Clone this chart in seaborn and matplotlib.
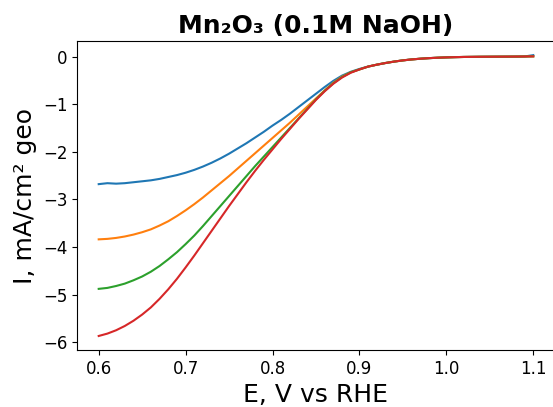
import matplotlib
matplotlib.use("Agg")
import matplotlib.pyplot as plt
import seaborn as sns
import pandas as pd

potential = [0.60, 0.61, 0.62, 0.63, 0.64, 0.65, 0.66, 0.67, 0.68, 0.69,
             0.70, 0.71, 0.72, 0.73, 0.74, 0.75, 0.76, 0.77, 0.78, 0.79,
             0.80, 0.81, 0.82, 0.83, 0.84, 0.85, 0.86, 0.87, 0.88, 0.89,
             0.90, 0.91, 0.92, 0.93, 0.94, 0.95, 0.96, 0.97, 0.98, 0.99,
             1.00, 1.01, 1.02, 1.03, 1.04, 1.05, 1.06, 1.07, 1.08, 1.09,
             1.10]

curve_1 = [-2.68, -2.66, -2.67, -2.66, -2.64, -2.62, -2.60, -2.57, -2.53, -2.49,
           -2.44, -2.38, -2.31, -2.23, -2.14, -2.04, -1.93, -1.82, -1.70, -1.58,
           -1.45, -1.33, -1.20, -1.06, -0.92, -0.78, -0.64, -0.51, -0.40, -0.32,
           -0.26, -0.21, -0.17, -0.135, -0.105, -0.08, -0.06, -0.045, -0.033, -0.024,
           -0.017, -0.012, -0.008, -0.006, -0.004, -0.003, -0.002, -0.001, 0.0, 0.002,
           0.03]
curve_2 = [-3.84, -3.83, -3.81, -3.78, -3.74, -3.69, -3.63, -3.55, -3.46, -3.35,
           -3.23, -3.10, -2.96, -2.81, -2.66, -2.51, -2.35, -2.19, -2.03, -1.87,
           -1.71, -1.55, -1.39, -1.22, -1.05, -0.88, -0.71, -0.55, -0.42, -0.33,
           -0.27, -0.21, -0.17, -0.135, -0.105, -0.08, -0.06, -0.045, -0.033, -0.024,
           -0.017, -0.012, -0.008, -0.006, -0.004, -0.003, -0.002, -0.001, 0.0, 0.002,
           0.005]
curve_3 = [-4.88, -4.86, -4.82, -4.77, -4.70, -4.62, -4.52, -4.40, -4.26, -4.11,
           -3.94, -3.76, -3.56, -3.35, -3.14, -2.93, -2.72, -2.51, -2.30, -2.10,
           -1.90, -1.70, -1.50, -1.30, -1.10, -0.90, -0.72, -0.56, -0.43, -0.33,
           -0.27, -0.21, -0.17, -0.135, -0.105, -0.08, -0.06, -0.045, -0.033, -0.024,
           -0.017, -0.012, -0.008, -0.006, -0.004, -0.003, -0.002, -0.001, 0.0, 0.002,
           0.005]
curve_4 = [-5.87, -5.82, -5.75, -5.66, -5.55, -5.42, -5.27, -5.09, -4.89, -4.67,
           -4.43, -4.18, -3.92, -3.66, -3.40, -3.14, -2.89, -2.64, -2.40, -2.17,
           -1.95, -1.73, -1.52, -1.31, -1.11, -0.91, -0.73, -0.57, -0.44, -0.34,
           -0.27, -0.21, -0.17, -0.135, -0.105, -0.08, -0.06, -0.045, -0.033, -0.024,
           -0.017, -0.012, -0.008, -0.006, -0.004, -0.003, -0.002, -0.001, 0.0, 0.002,
           0.005]

series = {"1": curve_1, "2": curve_2, "3": curve_3, "4": curve_4}
frames = []
for name, vals in series.items():
    frames.append(pd.DataFrame({"E": potential, "I": vals, "run": name}))
df = pd.concat(frames, ignore_index=True)

fig = plt.figure(figsize=(5.53, 4.07), dpi=100)
ax = fig.add_axes([0.1392, 0.140, 0.8644, 0.759])
sns.lineplot(data=df, x="E", y="I", hue="run", palette="tab10", legend=False,
             ax=ax, linewidth=1.5, sort=False)

ax.set_title("Mn\u2082O\u2083 (0.1M NaOH)", fontsize=18, fontweight="bold")
ax.set_xlabel("E, V vs RHE", fontsize=18)
ax.set_ylabel("I, mA/cm\u00b2 geo", fontsize=18)
ax.tick_params(labelsize=12)
ax.set_xticks([0.6, 0.7, 0.8, 0.9, 1.0, 1.1])

fig.savefig("out.png", dpi=100)
